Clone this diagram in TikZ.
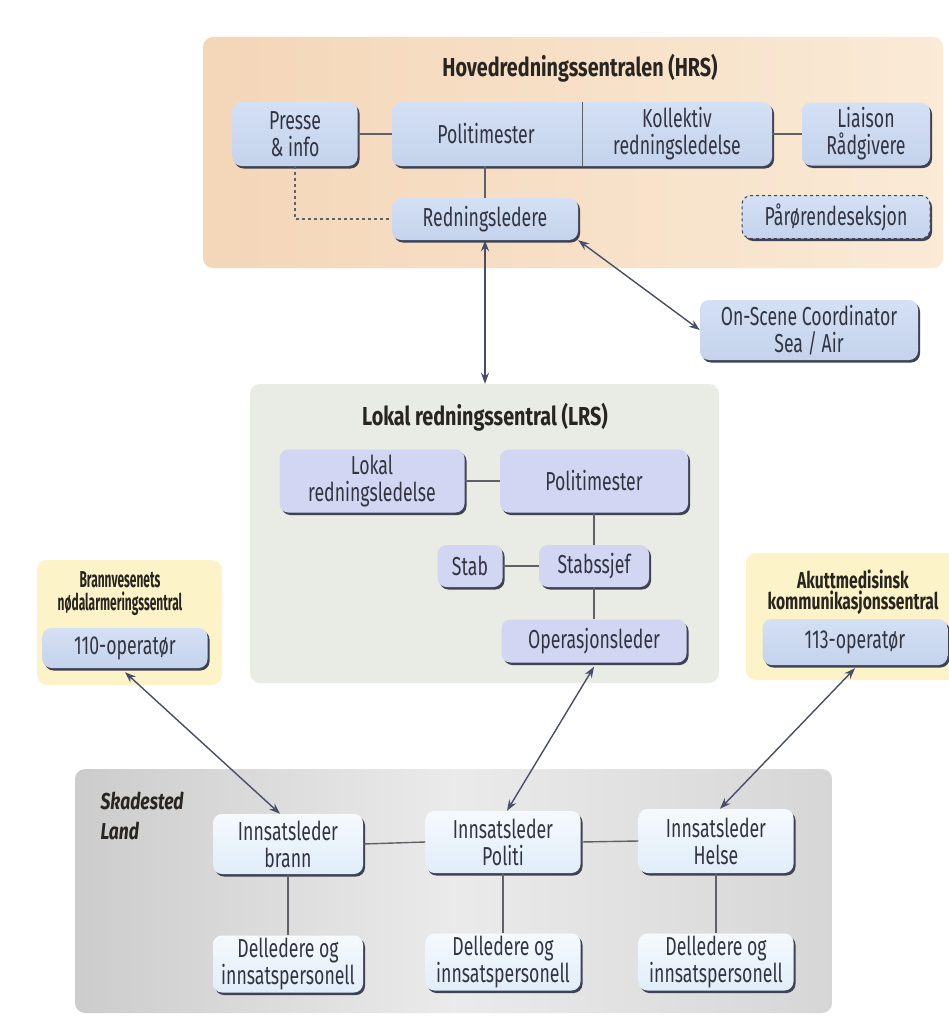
\documentclass[tikz,border=0pt]{standalone}
\usepackage{fontspec}
\setmainfont{Fira Sans}[FakeStretch=0.68]
\newfontfamily\headfont{Fira Sans}[FakeStretch=0.76]
\newfontfamily\tightfont{Fira Sans}[FakeStretch=0.52]
\usepackage{tikz}
\usetikzlibrary{positioning, shadows, arrows.meta, fit}

\definecolor{hrsorange}{RGB}{244,214,184}
\definecolor{hrslight}{RGB}{250,234,214}
\definecolor{lrsgreen}{RGB}{232,236,228}
\definecolor{callyellow}{RGB}{252,243,200}
\definecolor{boxblue}{RGB}{196,211,236}
\definecolor{boxbluetop}{RGB}{212,224,244}
\definecolor{boxlav}{RGB}{210,214,242}
\definecolor{boxpale}{RGB}{224,237,249}
\definecolor{shadowc}{RGB}{62,66,84}
\definecolor{boxtext}{RGB}{50,52,66}
\definecolor{titletext}{RGB}{40,36,32}
\definecolor{linkc}{RGB}{96,96,104}
\definecolor{arrowc}{RGB}{72,78,106}

\tikzset{
  panel/.style={rounded corners=10pt, draw=none},
  unit/.style={rounded corners=9pt, align=center, text=boxtext, inner sep=2pt,
    font=\fontsize{26}{27}\selectfont,
    drop shadow={shadow xshift=2pt, shadow yshift=-2.5pt, fill=shadowc, opacity=1}},
  hrsunit/.style={unit, top color=boxbluetop, bottom color=boxblue},
  lrsunit/.style={unit, fill=boxlav},
  fieldunit/.style={unit, top color=white!70!boxpale, bottom color=boxpale},
  head/.style={text=titletext, font=\fontsize{26}{28}\headfont\bfseries},
  smallhead/.style={text=titletext, align=center, font=\fontsize{23}{21}\selectfont\bfseries},
  link/.style={draw=linkc, line width=1.4pt},
  twoway/.style={draw=arrowc, line width=1.4pt, {Stealth[length=11pt, width=8pt]}-{Stealth[length=11pt, width=8pt]}}
}

\begin{document}
\begin{tikzpicture}[x=1pt, y=-1pt]
  \useasboundingbox[fill=white] (0,0) rectangle (949,1033);

  % backgrounds
  \node[panel, left color=hrsorange, right color=hrslight, minimum width=740pt, minimum height=231pt] (hrs) at (573,152.5) {};
  \node[panel, fill=lrsgreen, minimum width=469pt, minimum height=299pt] (lrs) at (484.5,533.5) {};
  \node[panel, fill=callyellow, minimum width=185pt, minimum height=125pt] (brannsentral) at (129.5,622.5) {};
  \node[panel, fill=callyellow, minimum width=210pt, minimum height=127pt] (amk) at (851,616.5) {};
  \node[panel, left color=black!20, right color=black!16, middle color=black!8, minimum width=757pt, minimum height=244pt] (skadested) at (453.5,891) {};

  % HRS
  \node[head] (hrstitle) at (580,68) {Hovedredningssentralen (HRS)};
  \node[hrsunit, minimum width=125pt, minimum height=64pt] (presse) at (295,134) {Presse\\\& info};
  \node[hrsunit, minimum width=380pt, minimum height=64pt] (ledelse) at (582,134) {};
  \node[text=boxtext, font=\fontsize{26}{27}\selectfont] (pm) at (486,134) {Politimester};
  \node[text=boxtext, align=center, font=\fontsize{26}{27}\selectfont] (kollektiv) at (677,134) {Kollektiv\\redningsledelse};
  \path (ledelse.north) edge[draw=linkc, line width=0.8pt] (ledelse.south);
  \node[hrsunit, minimum width=128pt, minimum height=63pt] (liaison) at (866,134) {Liaison\\Rådgivere};
  \node[hrsunit, minimum width=186pt, minimum height=42pt] (redn) at (485,219) {Redningsledere};
  \node[hrsunit, draw=shadowc, dashed, line width=1pt, minimum width=188pt, minimum height=43pt] (parorende) at (836,217) {Pårørendeseksjon};

  \path (presse.east) edge[link] (ledelse.west);
  \path (ledelse.east) edge[link] (liaison.west);
  \path (redn.north |- ledelse.south) edge[link] (redn.north);
  \draw[link, dashed] (presse.south) |- (redn.west);

  \node[hrsunit, minimum width=218pt, minimum height=60pt] (osc) at (809,330) {On-Scene Coordinator\\Sea / Air};

  % LRS
  \node[head] (lrstitle) at (485,417) {Lokal redningssentral (LRS)};
  \node[lrsunit, minimum width=185pt, minimum height=63pt] (lokal) at (372,481) {Lokal\\redningsledelse};
  \node[lrsunit, minimum width=188pt, minimum height=63pt] (lpm) at (594,481) {Politimester};
  \node[lrsunit, minimum width=65pt, minimum height=42pt] (stab) at (470,566) {Stab};
  \node[lrsunit, minimum width=110pt, minimum height=42pt] (stabssjef) at (594,566) {Stabssjef};
  \node[lrsunit, minimum width=185pt, minimum height=43pt] (ops) at (594,641) {Operasjonsleder};

  \path (lokal.east) edge[link] (lpm.west);
  \path (lpm.south) edge[link] (stabssjef.north);
  \path (stab.east) edge[link] (stabssjef.west);
  \path (stabssjef.south) edge[link] (ops.north);

  % 110 / 113
  \node[smallhead, font=\fontsize{23}{23}\tightfont\bfseries] (brannhead) at (120,594) {Brannvesenets\\nødalarmeringssentral};
  \node[hrsunit, minimum width=165pt, minimum height=40pt] (op110) at (125,648) {110-operatør};
  \node[smallhead] (amkhead) at (853,592) {Akuttmedisinsk\\kommunikasjonssentral};
  \node[hrsunit, minimum width=185pt, minimum height=46pt] (op113) at (855,642) {113-operatør};

  % Skadested
  \node[anchor=north west, align=left, text=titletext, font=\fontsize{23}{29}\headfont\bfseries\itshape] (sted) at (97,789) {Skadested\\Land};
  \node[fieldunit, minimum width=150pt, minimum height=60pt] (brann) at (288,844) {Innsatsleder\\brann};
  \node[fieldunit, minimum width=155pt, minimum height=62pt] (politi) at (503,842) {Innsatsleder\\Politi};
  \node[fieldunit, minimum width=155pt, minimum height=64pt] (helse) at (716,841) {Innsatsleder\\Helse};
  \node[fieldunit, minimum width=150pt, minimum height=57pt] (del1) at (288,964) {Delledere og\\innsatspersonell};
  \node[fieldunit, minimum width=155pt, minimum height=57pt] (del2) at (503,962) {Delledere og\\innsatspersonell};
  \node[fieldunit, minimum width=155pt, minimum height=57pt] (del3) at (716,962) {Delledere og\\innsatspersonell};

  \path (brann.east) edge[link] (politi.west);
  \path (politi.east) edge[link] (helse.west);
  \path (brann.south) edge[link] (del1.north);
  \path (politi.south) edge[link] (del2.north);
  \path (helse.south) edge[link] (del3.north);

  % arrows
  \path (redn.south) edge[twoway] (redn.south |- lrs.north);
  \path (redn.south east) edge[twoway] (osc.west);
  \path ([yshift=-4pt]op110.south) edge[twoway] ([xshift=-8pt]brann.north);
  \path ([yshift=-4pt]ops.south) edge[twoway] ([xshift=4pt]politi.north);
  \path ([yshift=-3pt]op113.south) edge[twoway] ([xshift=4pt]helse.north);
\end{tikzpicture}
\end{document}
